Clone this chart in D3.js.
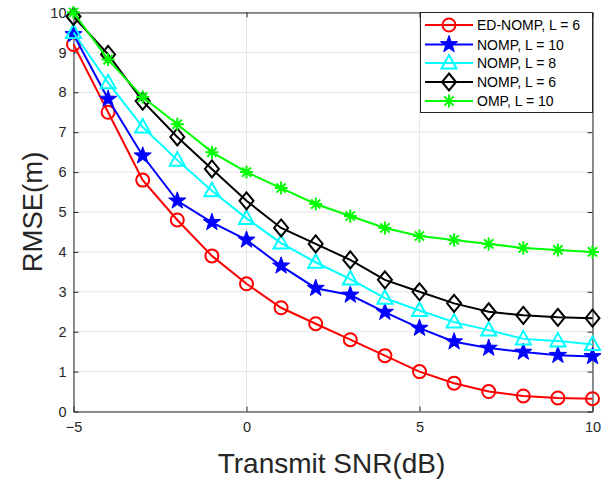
<!DOCTYPE html>
<html><head><meta charset="utf-8">
<script src="https://cdn.jsdelivr.net/npm/d3@7"></script>
<style>body{margin:0;background:#fff}svg{display:block}</style>
</head><body>
<script>
const snr = [-5,-4,-3,-2,-1,0,1,2,3,4,5,6,7,8,9,10];
const edNomp6 = [9.2,7.5,5.8,4.8,3.9,3.2,2.6,2.2,1.8,1.4,1.0,0.71,0.5,0.39,0.34,0.32];
const nomp10 = [9.45,7.83,6.41,5.28,4.74,4.3,3.65,3.09,2.92,2.49,2.09,1.75,1.59,1.49,1.41,1.38];
const nomp8 = [9.5,8.24,7.13,6.3,5.53,4.84,4.22,3.74,3.32,2.84,2.53,2.24,2.04,1.82,1.77,1.68];
const nomp6 = [9.9,8.95,7.78,6.88,6.08,5.28,4.6,4.2,3.8,3.3,3.0,2.71,2.5,2.41,2.36,2.34];
const omp10 = [10.0,8.82,7.88,7.2,6.5,6.0,5.6,5.2,4.9,4.6,4.4,4.3,4.2,4.1,4.05,4.0];
const seriesNames = ["ED-NOMP, L = 6","NOMP, L = 10","NOMP, L = 8","NOMP, L = 6","OMP, L = 10"];
const seriesColors = ["#ff0000","#0000ff","#00ffff","#000000","#00ff00"];
const seriesMarkers = ["circle","star","triangle","diamond","asterisk"];
const xTicks = [-5,0,5,10];
const yTicks = [0,1,2,3,4,5,6,7,8,9,10];
const xLabel = "Transmit SNR(dB)";
const yLabel = "RMSE(m)";

const seriesData = [edNomp6,nomp10,nomp8,nomp6,omp10];
const W=611,H=479;
const m={l:73.5,r:18.5,t:12.5,b:67.5};
const svg=d3.select("body").append("svg").attr("width",W).attr("height",H)
  .style("font-family","'Liberation Sans',Arial,sans-serif");
const x=d3.scaleLinear().domain([-5,10]).range([m.l,W-m.r]);
const y=d3.scaleLinear().domain([0,10]).range([H-m.b,m.t]);

// grid
const g=svg.append("g");
g.selectAll(".gx").data(xTicks).enter().append("line")
  .attr("x1",d=>x(d)).attr("x2",d=>x(d)).attr("y1",y(0)).attr("y2",y(10))
  .attr("stroke","#e6e6e6").attr("stroke-width",1);
g.selectAll(".gy").data(yTicks).enter().append("line")
  .attr("x1",x(-5)).attr("x2",x(10)).attr("y1",d=>y(d)).attr("y2",d=>y(d))
  .attr("stroke","#e6e6e6").attr("stroke-width",1);

// axes
const xa=svg.append("g").attr("transform",`translate(0,${y(0)})`)
  .call(d3.axisBottom(x).tickValues(xTicks).tickSize(-5).tickPadding(10).tickSizeOuter(0));
const ya=svg.append("g").attr("transform",`translate(${x(-5)},0)`)
  .call(d3.axisLeft(y).tickValues(yTicks).tickSize(-5).tickPadding(7).tickSizeOuter(0));
const xa2=svg.append("g").attr("transform",`translate(0,${y(10)})`)
  .call(d3.axisTop(x).tickValues(xTicks).tickSize(-5).tickFormat("").tickSizeOuter(0));
const ya2=svg.append("g").attr("transform",`translate(${x(10)},0)`)
  .call(d3.axisRight(y).tickValues(yTicks).tickSize(-5).tickFormat("").tickSizeOuter(0));
[xa,ya,xa2,ya2].forEach(a=>{
  a.selectAll("path").attr("stroke","#262626").attr("stroke-width",1);
  a.selectAll("line").attr("stroke","#262626");
  a.selectAll("text").attr("fill","#262626").style("font-size","14.5px");
});

// lines & markers
const line=d3.line().x((d,i)=>x(snr[i])).y(d=>y(d));
function drawMarker(sel,type,color){
  if(type==="circle"){
    sel.append("circle").attr("r",6.5).attr("fill","none").attr("stroke",color).attr("stroke-width",2);
  } else if(type==="star"){
    const pts=[];
    for(let k=0;k<10;k++){const r=k%2?3.6:9;const a=-Math.PI/2+k*Math.PI/5;pts.push([r*Math.cos(a),r*Math.sin(a)]);}
    sel.append("path").attr("d","M"+pts.join("L")+"Z").attr("fill",color).attr("stroke",color).attr("stroke-width",1);
  } else if(type==="triangle"){
    sel.append("path").attr("d","M0,-8L7.5,5.5L-7.5,5.5Z").attr("fill","none").attr("stroke",color).attr("stroke-width",2);
  } else if(type==="diamond"){
    sel.append("path").attr("d","M0,-8.5L7,0L0,8.5L-7,0Z").attr("fill","none").attr("stroke",color).attr("stroke-width",2);
  } else if(type==="asterisk"){
    const r=6.5,r2=4.6;
    const d=`M0,${-r}L0,${r}M${-r},0L${r},0M${-r2},${-r2}L${r2},${r2}M${-r2},${r2}L${r2},${-r2}`;
    sel.append("path").attr("d",d).attr("fill","none").attr("stroke",color).attr("stroke-width",2);
  }
}
seriesData.forEach((vals,si)=>{
  const c=seriesColors[si];
  svg.append("path").datum(vals).attr("d",line).attr("fill","none").attr("stroke",c).attr("stroke-width",2);
  vals.forEach((v,i)=>{
    const mg=svg.append("g").attr("transform",`translate(${x(snr[i])},${y(v)})`);
    drawMarker(mg,seriesMarkers[si],c);
  });
});

// labels
svg.append("text").attr("x",331.5).attr("y",473).attr("text-anchor","middle")
  .attr("fill","#262626").style("font-size","28px").text(xLabel);
svg.append("text").attr("transform",`translate(42,212) rotate(-90)`).attr("text-anchor","middle")
  .attr("fill","#262626").style("font-size","27.5px").text(yLabel);

// legend
const lg=svg.append("g");
lg.append("rect").attr("x",420.5).attr("y",12.5).attr("width",172).attr("height",100)
  .attr("fill","#fff").attr("stroke","#262626").attr("stroke-width",1);
const ly=[25,44.5,63,82,101];
seriesNames.forEach((n,i)=>{
  lg.append("line").attr("x1",425).attr("x2",473).attr("y1",ly[i]).attr("y2",ly[i])
    .attr("stroke",seriesColors[i]).attr("stroke-width",2);
  const mg=lg.append("g").attr("transform",`translate(449,${ly[i]})`);
  drawMarker(mg,seriesMarkers[i],seriesColors[i]);
  lg.append("text").attr("x",477).attr("y",ly[i]+5).attr("fill","#000").style("font-size","14px").text(n);
});
</script>
</body></html>
